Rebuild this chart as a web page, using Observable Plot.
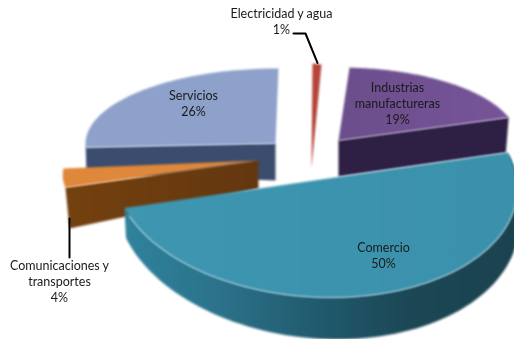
<!DOCTYPE html>
<html>
<head>
<meta charset="utf-8">
<script src="https://cdn.jsdelivr.net/npm/d3@7"></script>
<script src="https://cdn.jsdelivr.net/npm/@observablehq/plot@0.6"></script>
<style>
html,body{margin:0;padding:0;background:#fff;overflow:hidden}
svg{display:block}
svg .slice{filter:blur(0.8px)}
svg [aria-label="text"]{filter:blur(0.25px)}
</style>
</head>
<body>
<div id="chart"></div>
<script>
// Data, clockwise from the top of the pie
const categories = ["Electricidad y agua", "Industrias manufactureras", "Comercio", "Comunicaciones y transportes", "Servicios"];
const values = [1, 19, 50, 4, 26];
const labelLines = ["Electricidad y agua\n1%", "Industrias\nmanufactureras\n19%", "Comercio\n50%", "Comunicaciones y\ntransportes\n4%", "Servicios\n26%"];

// Perspective layout of each exploded slice (page units): apex, basis vectors, wall depth and lean
const layout = [
  {apex:[311,168], ex:[143,13],     ey:[-1,105],     wall:null,    top:"#b5453b", side:null},
  {apex:[338,140], ex:[179,-0.4],   ey:[0.2,73],     wall:"end",   dIn:36, dOut:35, lean:-0.08, top:"url(#gInd)", side:"#2e1f44"},
  {apex:[315.5,179.75], ex:[201.3,8.8], ey:[-0.2,117], wall:"arc", dEdge:30, dOut:42, lean:0.05, top:"url(#gCom)", side:"url(#gComSide)"},
  {apex:[258,160], ex:[193.6,-3.1], ey:[-29,77.8],   wall:"start", dIn:28, dOut:41, lean:0.1, top:"#df873a", side:"url(#gTra)"},
  {apex:[275,143], ex:[190,0.7],    ey:[-3,75],      wall:"start", dIn:37, dOut:26, lean:0.03, top:"#8ea1cb", side:"#3a4d6e"}
];
const labelPos = [[281,20.5],[397,102],[383,254],[59,280],[193,102]];
const drawOrder = [4,3,0,1,2];

const arcs = d3.pie().sort(null)(values);
const pt = (i,a) => {
  const {apex,ex,ey} = layout[i];
  return [apex[0]+ex[0]*Math.sin(a)-ey[0]*Math.cos(a), apex[1]+ex[1]*Math.sin(a)-ey[1]*Math.cos(a)];
};
const arcPts = (i,a0,a1) => d3.range(0,81).map(k => pt(i,a0+(a1-a0)*k/80));

function topShape(i){ return [layout[i].apex, ...arcPts(i,arcs[i].startAngle,arcs[i].endAngle)]; }
function wallShape(i){
  const L = layout[i], A = arcs[i];
  if (L.wall==="arc"){
    const rim = arcPts(i,A.startAngle,A.endAngle);
    const lower = rim.map((p,k) => {
      const d = L.dEdge+(L.dOut-L.dEdge)*Math.sin(Math.PI*k/(rim.length-1));
      return [p[0]+d*L.lean,p[1]+d];
    });
    return [...rim, ...lower.reverse()];
  }
  const a = L.wall==="start" ? A.startAngle : A.endAngle;
  const r = pt(i,a);
  return [L.apex, r, [r[0]+L.dOut*L.lean,r[1]+L.dOut], [L.apex[0],L.apex[1]+L.dIn]];
}
const poly = (pts,fill) => Plot.line(pts,{x:d=>d[0],y:d=>d[1],fill,stroke:"none",className:"slice"});

const defs = () => {
  const s = d3.create("svg:defs");
  const grad = (id,stops,x2="100%",y2="0%") => {
    const g = s.append("linearGradient").attr("id",id).attr("x1","0%").attr("y1","0%").attr("x2",x2).attr("y2",y2);
    stops.forEach(([o,c]) => g.append("stop").attr("offset",o).attr("stop-color",c));
  };
  grad("gComSide",[["0%","#2f829d"],["25%","#2b7189"],["50%","#20596c"],["72%","#1c4755"],["100%","#1b424f"]]);
  grad("gCom",[["0%","#3e96b1"],["100%","#3b91ab"]]);
  grad("gInd",[["0%","#6b4e8c"],["100%","#775499"]]);
  grad("gTra",[["0%","#74410f"],["100%","#633710"]]);
  return s.node();
};

const shapes = drawOrder.flatMap(i => [
  ...(layout[i].wall ? [poly(wallShape(i),layout[i].side)] : []),
  poly(topShape(i),layout[i].top)
]);

// Leader lines
const elecRim = pt(0,(arcs[0].startAngle+arcs[0].endAngle)/2);
const leaderElec = [[293,33],[305,33],[elecRim[0]+0.5,elecRim[1]-1]];
const leaderTra = [[69,218],[69,257]];

const labels = labelLines.map((t,i)=>({t,x:labelPos[i][0],y:labelPos[i][1]}));

const chart = Plot.plot({
  width:514, height:339,
  marginTop:0, marginRight:0, marginBottom:0, marginLeft:0,
  x:{domain:[0,514],range:[0,514],axis:null},
  y:{domain:[0,339],range:[0,339],axis:null},
  style:{background:"#fff"},
  marks:[
    defs,
    ...shapes,
    Plot.line(leaderElec,{x:d=>d[0],y:d=>d[1],stroke:"#000",strokeWidth:2,curve:"linear"}),
    Plot.line(leaderTra,{x:d=>d[0],y:d=>d[1],stroke:"#000",strokeWidth:2,curve:"linear"}),
    Plot.text(labels,{x:"x",y:"y",text:"t",fontFamily:"Lato",fontSize:12.5,lineHeight:1.28,fill:"#1a1a1a",textAnchor:"middle"})
  ]
});
document.getElementById("chart").appendChild(chart);
</script>
</body>
</html>
